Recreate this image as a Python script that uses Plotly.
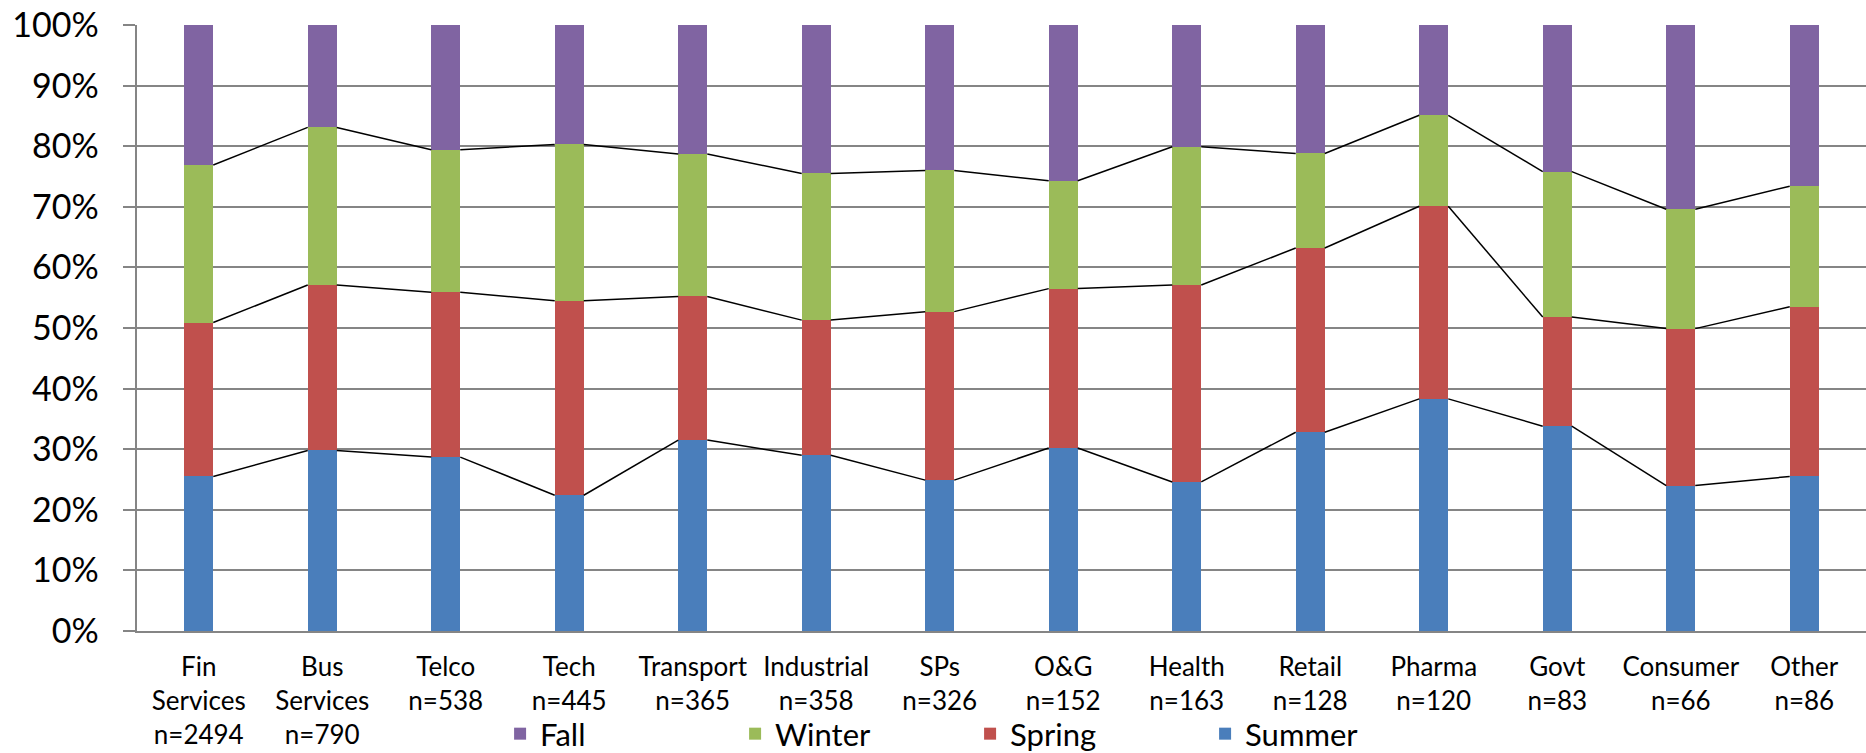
import numpy as np
import plotly.graph_objects as go

categories = ["Fin<br>Services<br>n=2494", "Bus<br>Services<br>n=790", "Telco<br>n=538", "Tech<br>n=445",
              "Transport<br>n=365", "Industrial<br>n=358", "SPs<br>n=326", "O&G<br>n=152",
              "Health<br>n=163", "Retail<br>n=128", "Pharma<br>n=120", "Govt<br>n=83",
              "Consumer<br>n=66", "Other<br>n=86"]

summer = [25.5, 29.8, 28.7, 22.4, 31.5, 29.0, 24.9, 30.2, 24.6, 32.8, 38.3, 33.8, 24.0, 25.5]
spring = [25.4, 27.3, 27.2, 32.1, 23.7, 22.3, 27.8, 26.3, 32.5, 30.4, 31.8, 18.0, 25.9, 28.0]
winter = [26.0, 26.0, 23.5, 25.8, 23.5, 24.2, 23.3, 17.8, 22.8, 15.6, 15.0, 24.0, 19.7, 19.9]
fall = [23.1, 16.9, 20.6, 19.7, 21.3, 24.5, 24.0, 25.7, 20.1, 21.2, 14.9, 24.2, 30.4, 26.6]

series = [("Summer", summer, "#4a7ebb"), ("Spring", spring, "#c0504d"),
          ("Winter", winter, "#9bbb59"), ("Fall", fall, "#8064a2")]

BAR_W = 0.235
FONT = "Lato, Carlito, Calibri, sans-serif"

n = len(categories)
idx = list(range(n))
fig = go.Figure()

for name, vals, color in series:
    fig.add_trace(go.Bar(x=idx, y=[v / 100.0 for v in vals], name=name, marker_color=color,
                         marker_line_width=0, width=BAR_W))

# series lines: cumulative top of summer, spring, winter segments (stacked per category),
# each segment running from the right edge of a bar to the left edge of the next
cum = np.cumsum(np.array([summer, spring, winter]) / 100.0, axis=0)
for row in cum:
    xs, ys = [], []
    for i in range(n - 1):
        xs += [i + BAR_W / 2, i + 1 - BAR_W / 2, None]
        ys += [float(row[i]), float(row[i + 1]), None]
    fig.add_trace(go.Scatter(x=xs, y=ys, mode="lines",
                             line=dict(color="black", width=1.5),
                             showlegend=False, hoverinfo="skip"))

fig.update_layout(
    barmode="stack",
    width=1866, height=753,
    margin=dict(l=137, r=0, t=25, b=122, autoexpand=False),
    paper_bgcolor="white", plot_bgcolor="white",
    font=dict(family=FONT, color="black"),
    legend=dict(orientation="h", x=0.21, xanchor="left", y=-0.17, yanchor="middle",
                traceorder="reversed", font=dict(size=31), entrywidth=190,
                bgcolor="rgba(0,0,0,0)"),
    showlegend=True,
)
fig.update_xaxes(range=[-0.5, n - 0.5], tickmode="array", tickvals=idx,
                 ticktext=categories, tickfont=dict(size=26), showgrid=False,
                 showline=True, linecolor="#858585", linewidth=2, ticks="", zeroline=False,
                 ticklabelstandoff=12)
fig.update_yaxes(range=[0, 1], tickformat=".0%", dtick=0.1, tickfont=dict(size=34),
                 ticksuffix="\u00a0\u00a0",
                 showgrid=True, gridcolor="#858585", gridwidth=1.5,
                 showline=True, linecolor="#858585", linewidth=2,
                 ticks="outside", ticklen=12, tickcolor="#858585", tickwidth=1.5,
                 zeroline=False)

fig.write_html("out.html")
